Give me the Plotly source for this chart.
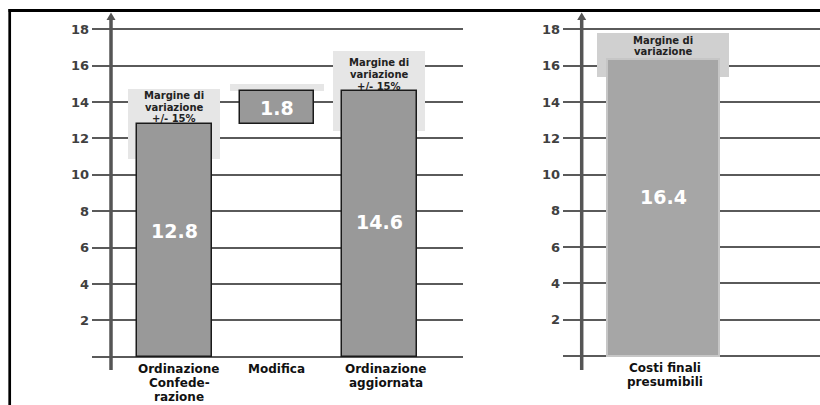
import plotly.graph_objects as go

W, H = 820, 405

# ---- data -------------------------------------------------------------
left_categories = ["Ordinazione<br>Confede-<br>razione", "Modifica", "Ordinazione<br>aggiornata"]
costo_confederazione = 12.8
modifica = 1.8
costo_aggiornato = 14.6
left_values = [costo_confederazione, modifica, costo_aggiornato]
left_bases = [0, costo_confederazione, 0]

variazione = 0.15
modifica_band_top = 15.0

right_categories = ["Costi finali<br>presumibili"]
right_values = [16.4]
right_band = [15.4, 17.8]

y_tick_values = [0, 2, 4, 6, 8, 10, 12, 14, 16, 18]
y_tick_labels = ["", "2", "4", "6", "8", "10", "12", "14", "16", "18"]

margin_text_left = "Margine di<br>variazione<br>+/- 15%"
margin_text_right = "Margine di<br>variazione"

# ---- geometry (pixels) ------------------------------------------------
L_X0, L_X1 = 92, 463          # horizontal extent of left grid
L_ZERO, L_UNIT = 356.7, 18.19  # pixel row of 0, pixels per unit
L_C0, L_STEP = 174.3, 102.5    # centre of first category, spacing

R_X0, R_X1 = 563, 820
R_ZERO, R_UNIT = 356.0, 18.14
R_C0, R_STEP = 663.0, 140.0

FONT = "DejaVu Sans"
GRID = "#5a5a5a"
CAPTION_SIZE, CAPTION_PITCH = 10, 11.7


def fx(p):
    return p / W


def fy(p):
    return 1 - p / H


fig = go.Figure()

# variation bands (behind the bars)
band_lo = [costo_confederazione * (1 - variazione), costo_aggiornato,
           costo_aggiornato * (1 - variazione)]
band_hi = [costo_confederazione * (1 + variazione), modifica_band_top,
           costo_aggiornato * (1 + variazione)]
fig.add_trace(go.Bar(
    x=[0, 1, 2], y=[h - l for l, h in zip(band_lo, band_hi)], base=band_lo,
    width=[0.9, 0.92, 0.9], marker=dict(color="#e6e6e6", line=dict(width=0)),
    hoverinfo="skip", xaxis="x", yaxis="y"))

# cost bars: initial order, change (floating), updated order
fig.add_trace(go.Bar(
    x=[0, 1, 2], y=left_values, base=left_bases, width=0.727,
    marker=dict(color="#999999", line=dict(color="#1a1a1a", width=1.5)),
    hoverinfo="skip", xaxis="x", yaxis="y"))

# final cost panel
fig.add_trace(go.Bar(
    x=[0], y=[right_band[1] - right_band[0]], base=[right_band[0]], width=0.936,
    marker=dict(color="#d0d0d0", line=dict(width=0)),
    hoverinfo="skip", xaxis="x2", yaxis="y2"))
fig.add_trace(go.Bar(
    x=[0], y=right_values, width=0.8,
    marker=dict(color="#a6a6a6", line=dict(color="#c6c6c6", width=2)),
    hoverinfo="skip", xaxis="x2", yaxis="y2"))

# ---- value labels -----------------------------------------------------
value_label_y = [6.93, None, 7.4]
for i, v in enumerate(left_values):
    y = value_label_y[i] if value_label_y[i] is not None else left_bases[i] + v / 2
    fig.add_annotation(x=i, y=y, xref="x", yref="y", text=f"{v:.1f}",
                       showarrow=False, xanchor="center", yanchor="middle",
                       font=dict(family=FONT, size=19, color="white", weight="bold"))
fig.add_annotation(x=0, y=8.78, xref="x2", yref="y2", text=f"{right_values[0]:.1f}",
                   showarrow=False, xanchor="center", yanchor="middle",
                   font=dict(family=FONT, size=19, color="white", weight="bold"))

# ---- variation band captions -------------------------------------------
lines = margin_text_left.split("<br>")
n = len(lines)
for idx in (0, 2):
    top = left_bases[idx] + left_values[idx]
    for j, line in enumerate(lines):
        fig.add_annotation(x=idx, y=top, xref="x", yref="y", text=line,
                           yshift=5 + (n - 1 - j) * CAPTION_PITCH, showarrow=False,
                           xanchor="center", yanchor="middle",
                           font=dict(family=FONT, size=CAPTION_SIZE, color="#222222",
                                     weight="bold"))
for j, line in enumerate(margin_text_right.split("<br>")):
    fig.add_annotation(x=0, y=right_band[1], xref="x2", yref="y2", text=line,
                       yshift=-(7 + j * CAPTION_PITCH), showarrow=False,
                       xanchor="center", yanchor="middle",
                       font=dict(family=FONT, size=CAPTION_SIZE, color="#222222",
                                 weight="bold"))

# ---- category labels -------------------------------------------------
left_shift = [5, 0, 7]
for i, cat in enumerate(left_categories):
    for j, line in enumerate(cat.split("<br>")):
        fig.add_annotation(x=i, y=0, xref="x", yref="y", text=line,
                           xshift=left_shift[i], yshift=-(12.3 + 14 * j),
                           showarrow=False, xanchor="center", yanchor="middle",
                           font=dict(family=FONT, size=12, color="#111111", weight="bold"))
for i, cat in enumerate(right_categories):
    for j, line in enumerate(cat.split("<br>")):
        fig.add_annotation(x=i, y=0, xref="x2", yref="y2", text=line,
                           xshift=2, yshift=-(12 + 14 * j),
                           showarrow=False, xanchor="center", yanchor="middle",
                           font=dict(family=FONT, size=12, color="#111111", weight="bold"))

# ---- axes line, arrows, frame ------------------------------------------
shapes = []
for ax_x in (111, 581.7):
    shapes.append(dict(type="line", xref="paper", yref="paper",
                       x0=fx(ax_x), x1=fx(ax_x), y0=fy(370), y1=fy(18),
                       line=dict(color="#555555", width=3.5)))
    shapes.append(dict(type="path", xref="paper", yref="paper",
                       path=(f"M {fx(ax_x - 4.5)},{fy(20)} L {fx(ax_x)},{fy(12.5)} "
                             f"L {fx(ax_x + 4.5)},{fy(20)} Z"),
                       fillcolor="#555555", line=dict(width=0)))
shapes.append(dict(type="line", xref="paper", yref="paper",
                   x0=fx(8.5), x1=1, y0=fy(10.5), y1=fy(10.5),
                   line=dict(color="black", width=3)))
shapes.append(dict(type="line", xref="paper", yref="paper",
                   x0=fx(9.7), x1=fx(9.7), y0=fy(9), y1=0,
                   line=dict(color="black", width=2.7)))

tick_font = dict(family=FONT, size=13, color="#404040", weight="bold")
yaxis_common = dict(tickmode="array", tickvals=y_tick_values, ticktext=y_tick_labels,
                    showgrid=True, gridcolor=GRID, gridwidth=2, zeroline=False,
                    showline=False, ticks="", tickfont=tick_font,
                    ticklabelstandoff=2, domain=[0, 1], fixedrange=True)

fig.update_layout(
    width=W, height=H, margin=dict(l=0, r=0, t=0, b=0),
    paper_bgcolor="white", plot_bgcolor="rgba(0,0,0,0)",
    barmode="overlay", bargap=0, showlegend=False,
    xaxis=dict(domain=[fx(L_X0), fx(L_X1)],
               range=[(L_X0 - L_C0) / L_STEP, (L_X1 - L_C0) / L_STEP],
               showgrid=False, zeroline=False, showticklabels=False, anchor="y"),
    yaxis=dict(range=[(L_ZERO - H) / L_UNIT, L_ZERO / L_UNIT], anchor="x", **yaxis_common),
    xaxis2=dict(domain=[fx(R_X0), fx(R_X1)],
                range=[(R_X0 - R_C0) / R_STEP, (R_X1 - R_C0) / R_STEP],
                showgrid=False, zeroline=False, showticklabels=False, anchor="y2"),
    yaxis2=dict(range=[(R_ZERO - H) / R_UNIT, R_ZERO / R_UNIT], anchor="x2", **yaxis_common),
    shapes=shapes,
)

fig.write_html("out.html")
